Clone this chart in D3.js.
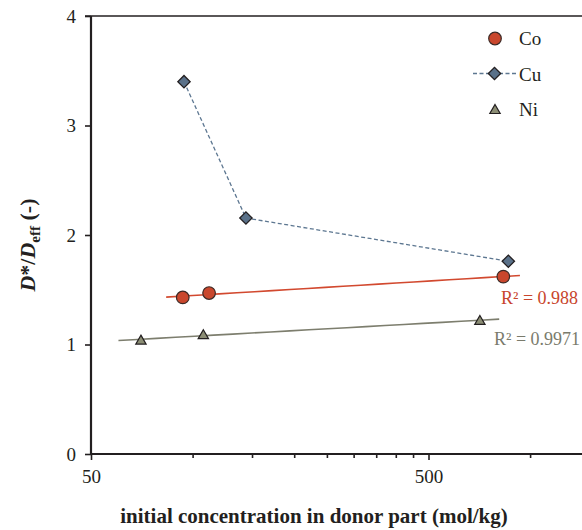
<!DOCTYPE html>
<html>
<head>
<style>
body { margin: 0; background: #fff; }
svg text { font-family: "Liberation Serif", "Times New Roman", Times, serif; }
</style>
</head>
<body>
<svg width="582" height="530" font-family="Liberation Serif"></svg>
<script src="https://d3js.org/d3.v7.min.js"></script>
<script>

// values
let coX = [93.5, 111.9, 833], coY = [1.43, 1.47, 1.62];
let cuX = [94.3, 143.9, 862], cuY = [3.40, 2.155, 1.76];
let niX = [70.3, 107.6, 710], niY = [1.04, 1.09, 1.22];
let yTicks = [0, 1, 2, 3, 4];
let xMajor = [50, 500];
let xMinor = [100, 150, 200, 250, 300, 350, 400, 450, 1000];
let legendNames = ['Co', 'Cu', 'Ni'];
let r2Labels = ['R\u00b2 = 0.988', 'R\u00b2 = 0.9971'];
let trendBack = 10, trendForward = 100;

let serif = '"Liberation Serif", "Times New Roman", serif';
let svg = d3.select('svg');

let x = d3.scaleLog().domain([50, 5000]).range([91, 766]);
let y = d3.scaleLinear().domain([0, 4]).range([454, 16]);

let ink = '#231f20';

// log trend fit: y = a*ln(x) + b
function logFit(xs, ys) {
    let lx = xs.map(v => Math.log(v));
    let mx = d3.mean(lx), my = d3.mean(ys);
    let sxy = 0, sxx = 0;
    for (let i = 0; i < lx.length; i++) {
        sxy += (lx[i] - mx) * (ys[i] - my);
        sxx += (lx[i] - mx) * (lx[i] - mx);
    }
    let a = sxy / sxx;
    return v => a * Math.log(v) + my - a * mx;
}

function trend(xs, ys, color) {
    let f = logFit(xs, ys);
    let lo = Math.log(d3.min(xs) - trendBack), hi = Math.log(d3.max(xs) + trendForward);
    let pts = d3.range(0, 21).map(i => {
        let v = Math.exp(lo + (hi - lo) * i / 20);
        return [v, f(v)];
    });
    svg.append('path')
        .datum(pts)
        .attr('fill', 'none')
        .attr('stroke', color)
        .attr('stroke-width', 1.6)
        .attr('d', d3.line().x(d => x(d[0])).y(d => y(d[1])));
}

// axes
let yAxis = d3.axisLeft(y).tickValues(yTicks).tickSize(6).tickPadding(9).tickFormat(d3.format('d'));
let gy = svg.append('g').attr('transform', 'translate(91,0)').call(yAxis);
gy.select('.domain').remove();

let xAxis = d3.axisBottom(x).tickValues(xMajor).tickSize(6).tickPadding(10).tickFormat(d3.format('d'));
let gx = svg.append('g').attr('transform', 'translate(0,454)').call(xAxis);
gx.select('.domain').remove();

let xAxisMinor = d3.axisBottom(x).tickValues(xMinor).tickSize(4).tickFormat('');
let gm = svg.append('g').attr('transform', 'translate(0,454)').call(xAxisMinor);
gm.select('.domain').remove();

svg.selectAll('g').attr('font-family', serif);
svg.selectAll('.tick line').attr('stroke', ink).attr('stroke-width', 1.6);
svg.selectAll('.tick text').attr('fill', ink).style('font-size', '19px')
    .style('font-family', serif);

// frame lines
svg.append('line').attr('x1', 85).attr('x2', 582).attr('y1', y(4)).attr('y2', y(4))
    .attr('stroke', ink).attr('stroke-width', 1.6);
svg.append('line').attr('x1', 91).attr('x2', 582).attr('y1', y(0)).attr('y2', y(0))
    .attr('stroke', ink).attr('stroke-width', 2.2);
svg.append('line').attr('x1', 91).attr('x2', 91).attr('y1', y(4)).attr('y2', y(0) + 1)
    .attr('stroke', ink).attr('stroke-width', 2.2);

// trendlines
trend(coX, coY, '#d2492f');
trend(niX, niY, '#7d7e6e');

// Cu dashed line
let cuPts = cuX.map((v, i) => [v, cuY[i]]);
svg.append('path')
    .datum(cuPts)
    .attr('fill', 'none')
    .attr('stroke', '#5d7791')
    .attr('stroke-width', 1.3)
    .attr('stroke-dasharray', '4,2.5')
    .attr('d', d3.line().x(d => x(d[0])).y(d => y(d[1])));

let diamond = d3.symbol().type(d3.symbolSquare).size(76);
let tri = d3.symbol().type(d3.symbolTriangle).size(46);

svg.selectAll('.cu').data(cuPts).join('path')
    .attr('d', diamond)
    .attr('transform', d => 'translate(' + x(d[0]) + ',' + y(d[1]) + ') rotate(45)')
    .attr('fill', '#5a7189').attr('stroke', ink).attr('stroke-width', 1.3);

svg.selectAll('.co').data(coX.map((v, i) => [v, coY[i]])).join('circle')
    .attr('cx', d => x(d[0])).attr('cy', d => y(d[1])).attr('r', 6.3)
    .attr('fill', '#c9472d').attr('stroke', '#3b2a26').attr('stroke-width', 1.2);

svg.selectAll('.ni').data(niX.map((v, i) => [v, niY[i]])).join('path')
    .attr('d', tri)
    .attr('transform', d => 'translate(' + x(d[0]) + ',' + (y(d[1]) + 1) + ')')
    .attr('fill', '#8b8d74').attr('stroke', ink).attr('stroke-width', 1.2);

// R2 labels
svg.append('text').attr('x', 501).attr('y', 304).attr('fill', '#c8452c')
    .style('font-family', serif).style('font-size', '18px').text(r2Labels[0]);
svg.append('text').attr('x', 494).attr('y', 345).attr('fill', '#7a7b6c')
    .style('font-family', serif).style('font-size', '18px').text(r2Labels[1]);

// legend
let lg = svg.append('g');
lg.append('circle').attr('cx', 495).attr('cy', 38.5).attr('r', 6.3)
    .attr('fill', '#c9472d').attr('stroke', '#3b2a26').attr('stroke-width', 1.2);
lg.append('line').attr('x1', 473).attr('x2', 516).attr('y1', 73.5).attr('y2', 73.5)
    .attr('stroke', '#5d7791').attr('stroke-width', 1.3).attr('stroke-dasharray', '4,2.5');
lg.append('path').attr('d', diamond).attr('transform', 'translate(494.5,73.5) rotate(45)')
    .attr('fill', '#5a7189').attr('stroke', ink).attr('stroke-width', 1.3);
lg.append('path').attr('d', tri).attr('transform', 'translate(495,110.5)')
    .attr('fill', '#8b8d74').attr('stroke', ink).attr('stroke-width', 1.2);
lg.selectAll('text').data(legendNames).join('text')
    .attr('x', 519).attr('y', (d, i) => 45 + i * 35.5)
    .attr('fill', ink).style('font-family', serif).style('font-size', '19px').text(d => d);

// axis titles
svg.append('text').attr('x', 314).attr('y', 523).attr('text-anchor', 'middle')
    .attr('fill', ink).style('font-family', serif).style('font-size', '21px').style('font-weight', 'bold')
    .text('initial concentration in donor part (mol/kg)');

let yt = svg.append('text').attr('transform', 'translate(35,245) rotate(-90)')
    .attr('text-anchor', 'middle').attr('fill', ink)
    .style('font-family', serif).style('font-size', '22px').style('font-weight', 'bold');
yt.append('tspan').style('font-style', 'italic').text('D');
yt.append('tspan').text('*/');
yt.append('tspan').style('font-style', 'italic').text('D');
yt.append('tspan').attr('dy', 5).style('font-size', '15px').text('eff');
yt.append('tspan').attr('dy', -5).text(' (-)');

</script>
</body>
</html>
